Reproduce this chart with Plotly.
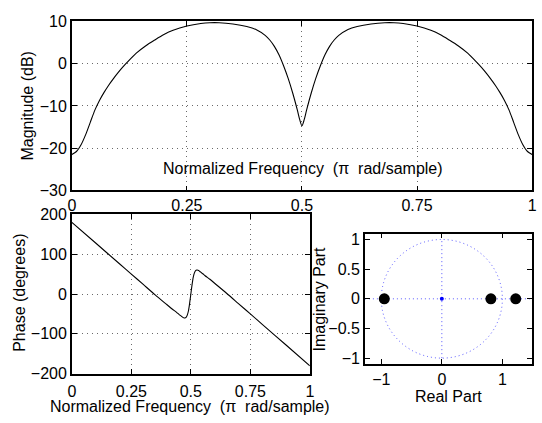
import plotly.graph_objects as go

# ---------------- data ----------------
mag_freq = [0.00, 0.01, 0.02, 0.03, 0.04, 0.05, 0.06, 0.07, 0.08, 0.09, 0.10, 0.11, 0.12,
            0.14, 0.16, 0.18, 0.20, 0.22, 0.25, 0.28, 0.30, 0.32, 0.35, 0.38, 0.40, 0.42,
            0.43, 0.44, 0.45, 0.46, 0.47, 0.48, 0.49, 0.495, 0.50,
            0.505, 0.51, 0.52, 0.53, 0.54, 0.55, 0.56, 0.57, 0.58, 0.60, 0.62, 0.65, 0.68,
            0.70, 0.72, 0.75, 0.78, 0.80, 0.82, 0.84, 0.86, 0.88, 0.89, 0.90, 0.91, 0.92,
            0.93, 0.94, 0.95, 0.96, 0.97, 0.98, 0.99, 1.00]
mag_db = [-21.5, -20.8, -19.2, -16.8, -13.9, -11.0, -8.7, -6.8, -5.1, -3.6, -2.2, -0.9, 0.3,
          2.5, 4.2, 5.6, 6.9, 7.9, 8.9, 9.5, 9.7, 9.7, 9.4, 8.8, 8.1, 6.7,
          5.6, 4.1, 2.1, -0.5, -3.5, -7.0, -11.0, -13.2, -14.7,
          -13.2, -11.0, -7.0, -3.5, -0.5, 2.1, 4.1, 5.6, 6.7, 8.1, 8.8, 9.4, 9.7,
          9.7, 9.5, 8.9, 7.9, 6.9, 5.6, 4.2, 2.5, 0.3, -0.9, -2.2, -3.6, -5.1,
          -6.8, -8.7, -11.0, -13.9, -16.8, -19.2, -20.8, -21.5]

phase_freq = [0.00, 0.10, 0.20, 0.25, 0.30, 0.35, 0.40, 0.42, 0.44, 0.45, 0.46, 0.465, 0.47,
              0.475, 0.48, 0.485, 0.49, 0.495, 0.50, 0.505, 0.51, 0.515, 0.52, 0.525, 0.53,
              0.535, 0.54, 0.55, 0.56, 0.58, 0.60, 0.65, 0.70, 0.75, 0.80, 0.90, 1.00]
phase_deg = [180, 128, 76, 50, 24, -2, -27, -37, -46, -51, -55.5, -58, -59.8,
             -60.3, -58.5, -53, -42, -23, 0, 23, 42, 53, 58.5, 60.3, 59.8,
             58, 55.5, 51, 46, 37, 27, 2, -24, -50, -76, -128, -180]

zero_re = [-0.95, 0.81, 1.22]
zero_im = [0.0, 0.0, 0.0]
pole_re = [0.0]
pole_im = [0.0]

freq_ticks = [0, 0.25, 0.5, 0.75, 1]
mag_ticks = [-30, -20, -10, 0, 10]
phase_ticks = [-200, -100, 0, 100, 200]
re_ticks = [-1, 0, 1]
im_ticks = [-1, -0.5, 0, 0.5, 1]

# ---------------- layout helpers ----------------
W, H = 542, 423
def px(x):
    return x / W
def py(y):
    return 1 - y / H

FONT = "Liberation Sans, Arial, Helvetica, sans-serif"
FS = 16
GRID = "rgba(90,90,90,0.9)"
BLUE = "rgba(60,60,255,0.85)"

fig = go.Figure()

fig.add_trace(go.Scatter(x=mag_freq, y=mag_db, mode="lines",
                         line=dict(color="black", width=1.1, shape="spline", smoothing=0.8),
                         xaxis="x", yaxis="y", showlegend=False))
fig.add_trace(go.Scatter(x=phase_freq, y=phase_deg, mode="lines",
                         line=dict(color="black", width=1.1, shape="spline", smoothing=0.8),
                         xaxis="x2", yaxis="y2", showlegend=False))
fig.add_trace(go.Scatter(x=zero_re, y=zero_im, mode="markers",
                         marker=dict(color="black", size=11),
                         xaxis="x3", yaxis="y3", showlegend=False))
fig.add_trace(go.Scatter(x=pole_re, y=pole_im, mode="markers",
                         marker=dict(color="blue", size=4),
                         xaxis="x3", yaxis="y3", showlegend=False))

axis_common = dict(showline=True, linecolor="black", linewidth=1.5, mirror="ticks",
                   ticks="inside", ticklen=5, tickcolor="black", zeroline=False,
                   tickfont=dict(family=FONT, size=FS, color="black"))

grid_common = dict(showgrid=True, gridcolor=GRID, gridwidth=1, griddash="1px,4px")

fig.update_layout(
    width=W, height=H,
    margin=dict(l=0, r=0, t=0, b=0),
    paper_bgcolor="white", plot_bgcolor="white",
    font=dict(family=FONT, size=FS, color="black"),
    xaxis=dict(domain=[px(69), px(537)], range=[0, 1], tickvals=freq_ticks,
               anchor="y", **axis_common, **grid_common),
    yaxis=dict(domain=[py(190), py(14)], range=[-30, 10], tickvals=mag_ticks,
               anchor="x", **axis_common, **grid_common),
    xaxis2=dict(domain=[px(69), px(311)], range=[0, 1], tickvals=freq_ticks,
                anchor="y2", ticklabelstandoff=2, **axis_common, **grid_common),
    yaxis2=dict(domain=[py(381), py(215)], range=[-200, 200], tickvals=phase_ticks,
                anchor="x2", **axis_common, **grid_common),
    xaxis3=dict(domain=[px(367), px(537)], range=[-1.27, 1.49], tickvals=re_ticks,
                anchor="y3", showgrid=False, **axis_common),
    yaxis3=dict(domain=[py(371), py(235)], range=[-1.1, 1.1], tickvals=im_ticks,
                anchor="x3", showgrid=False, **axis_common),
)

# unit circle and real/imag axes in the z-plane
dotted = dict(color=BLUE, width=1, dash="1px,3px")
fig.add_shape(type="circle", xref="x3", yref="y3", x0=-1, y0=-1, x1=1, y1=1,
              line=dotted, layer="below")
fig.add_shape(type="line", xref="x3", yref="y3", x0=-1.27, y0=0, x1=1.49, y1=0,
              line=dotted, layer="below")
fig.add_shape(type="line", xref="x3", yref="y3", x0=0, y0=-1, x1=0, y1=1,
              line=dotted, layer="below")

nb = "\u00a0"
xlab = f"Normalized Frequency{nb}{nb}(π{nb}{nb}rad/sample)"
ann = [
    dict(text=xlab, x=px(304), y=py(167)),
    dict(text=xlab, x=px(189), y=py(415)),
    dict(text="Magnitude (dB)", x=px(24), y=py(102), textangle=-90),
    dict(text="Phase (degrees)", x=px(15), y=py(297), textangle=-90),
    dict(text="Real Part", x=px(452), y=py(405)),
    dict(text="Imaginary Part", x=px(321), y=py(303), textangle=-90),
]
for a in ann:
    fig.add_annotation(xref="paper", yref="paper", showarrow=False,
                       xanchor="center", yanchor="middle", borderpad=0,
                       font=dict(family=FONT, size=FS, color="black"), **a)

fig.write_html("out.html")
